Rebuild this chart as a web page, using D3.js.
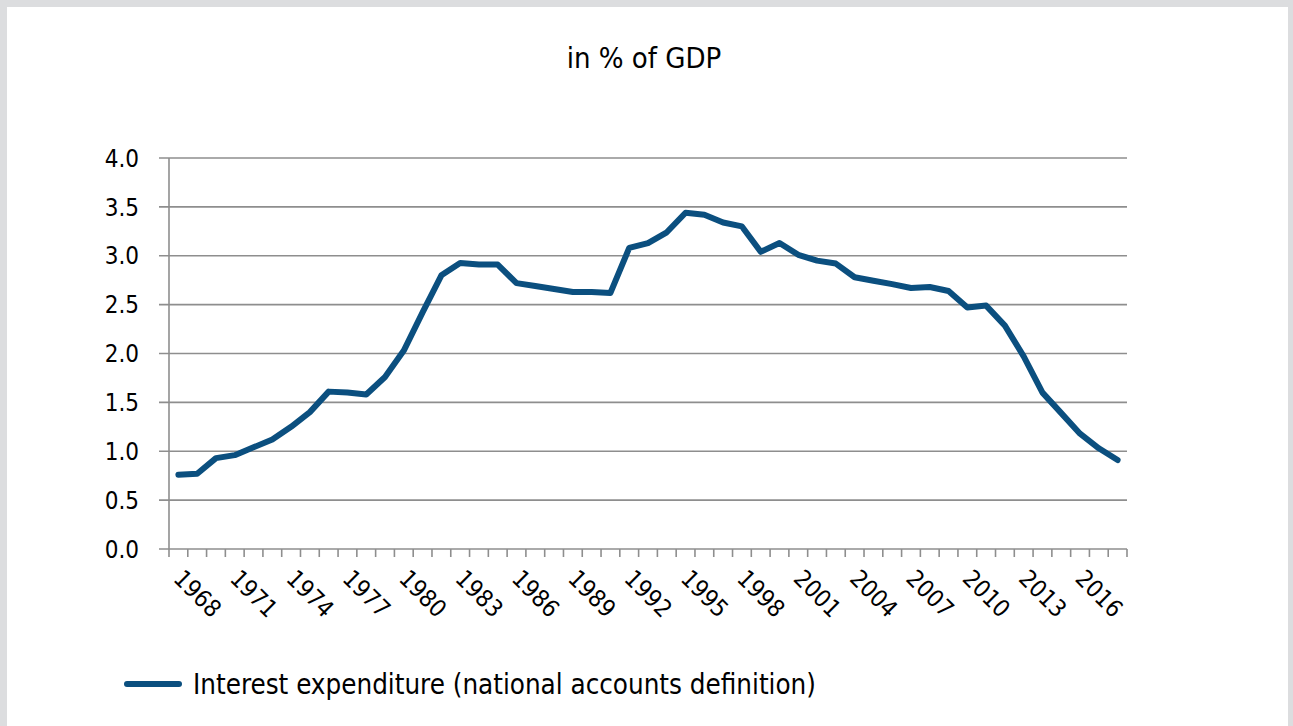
<!DOCTYPE html>
<html>
<head>
<meta charset="utf-8">
<script src="https://cdn.jsdelivr.net/npm/d3@7"></script>
<style>
  html, body { margin: 0; padding: 0; background: #dcdddf; }
  svg { display: block; }
  text { font-family: "DejaVu Sans Condensed", "DejaVu Sans", sans-serif; fill: #000; }
</style>
</head>
<body>
<svg id="chart" width="1293" height="726"></svg>
<script>
// interest expenditure, % of GDP
var years = [1968, 1969, 1970, 1971, 1972, 1973, 1974, 1975, 1976, 1977,
             1978, 1979, 1980, 1981, 1982, 1983, 1984, 1985, 1986, 1987,
             1988, 1989, 1990, 1991, 1992, 1993, 1994, 1995, 1996, 1997,
             1998, 1999, 2000, 2001, 2002, 2003, 2004, 2005, 2006, 2007,
             2008, 2009, 2010, 2011, 2012, 2013, 2014, 2015, 2016, 2017, 2018];
var interest = [0.76, 0.77, 0.93, 0.96, 1.04, 1.12, 1.25, 1.40, 1.61, 1.60,
                1.58, 1.76, 2.03, 2.42, 2.80, 2.925, 2.91, 2.91, 2.72, 2.69,
                2.66, 2.63, 2.63, 2.62, 3.08, 3.13, 3.24, 3.44, 3.42, 3.34,
                3.30, 3.04, 3.13, 3.01, 2.95, 2.92, 2.78, 2.745, 2.71, 2.67,
                2.68, 2.64, 2.47, 2.49, 2.285, 1.97, 1.60, 1.39, 1.18, 1.03, 0.91];
var yearLabels = [1968, 1971, 1974, 1977, 1980, 1983, 1986, 1989, 1992, 1995,
                  1998, 2001, 2004, 2007, 2010, 2013, 2016];
var yTicks = [0, 0.5, 1, 1.5, 2, 2.5, 3, 3.5, 4];

var title = "in % of GDP";
var seriesName = "Interest expenditure (national accounts definition)";
var lineColor = "#0b4f7f";
var gridColor = "#8e8e8e";

var svg = d3.select("#chart");

// white panel inside the grey frame
svg.append("rect")
    .attr("x", 7).attr("y", 7)
    .attr("width", 1281).attr("height", 719)
    .attr("fill", "#fff");

// note: "top" is taken by window.top, so use other names
var plotL = 169, plotR = 1127, plotT = 158, plotB = 549;

var x = d3.scaleBand().domain(years).range([plotL, plotR]).padding(0);
var y = d3.scaleLinear().domain([0, 4]).range([plotB, plotT]);

svg.append("text")
    .attr("x", 644).attr("y", 68)
    .attr("text-anchor", "middle")
    .style("font-size", "29px")
    .text(title);

// gridlines + y labels
var g = svg.append("g");
g.selectAll(".grid").data(yTicks).enter().append("line")
    .attr("x1", plotL - 10).attr("x2", plotR)
    .attr("y1", function(d) { return y(d); })
    .attr("y2", function(d) { return y(d); })
    .attr("stroke", gridColor)
    .attr("stroke-width", 1.6);

g.selectAll(".ylab").data(yTicks).enter().append("text")
    .attr("x", plotL - 30)
    .attr("y", function(d) { return y(d); })
    .attr("dy", "0.36em")
    .attr("text-anchor", "end")
    .style("font-size", "24px")
    .text(function(d) { return d3.format(".1f")(d); });

// y axis line
g.append("line")
    .attr("x1", plotL).attr("x2", plotL)
    .attr("y1", plotT).attr("y2", plotB)
    .attr("stroke", gridColor).attr("stroke-width", 1.6);

// x axis ticks at category boundaries
var bounds = years.map(function(d) { return x(d); }).concat([x(years[years.length - 1]) + x.bandwidth()]);
g.selectAll(".xtick").data(bounds).enter().append("line")
    .attr("x1", function(d) { return d; })
    .attr("x2", function(d) { return d; })
    .attr("y1", plotB).attr("y2", plotB + 8)
    .attr("stroke", gridColor).attr("stroke-width", 1.6);

g.selectAll(".xlab").data(yearLabels).enter().append("text")
    .attr("transform", function(d) {
        return "translate(" + (x(d) + x.bandwidth() / 2) + "," + (plotB + 25) + ") rotate(45)";
    })
    .attr("dy", "0.36em")
    .style("font-size", "24px")
    .text(function(d) { return d; });

// the series
var line = d3.line()
    .x(function(d, i) { return x(years[i]) + x.bandwidth() / 2; })
    .y(function(d) { return y(d); });

svg.append("path")
    .datum(interest)
    .attr("d", line)
    .attr("fill", "none")
    .attr("stroke", lineColor)
    .attr("stroke-width", 6)
    .attr("stroke-linejoin", "round")
    .attr("stroke-linecap", "round");

// legend
svg.append("line")
    .attr("x1", 127).attr("x2", 179)
    .attr("y1", 684).attr("y2", 684)
    .attr("stroke", lineColor)
    .attr("stroke-width", 6)
    .attr("stroke-linecap", "round");

svg.append("text")
    .attr("x", 193).attr("y", 684)
    .attr("dy", "0.36em")
    .style("font-size", "27.5px")
    .text(seriesName);
</script>
</body>
</html>
